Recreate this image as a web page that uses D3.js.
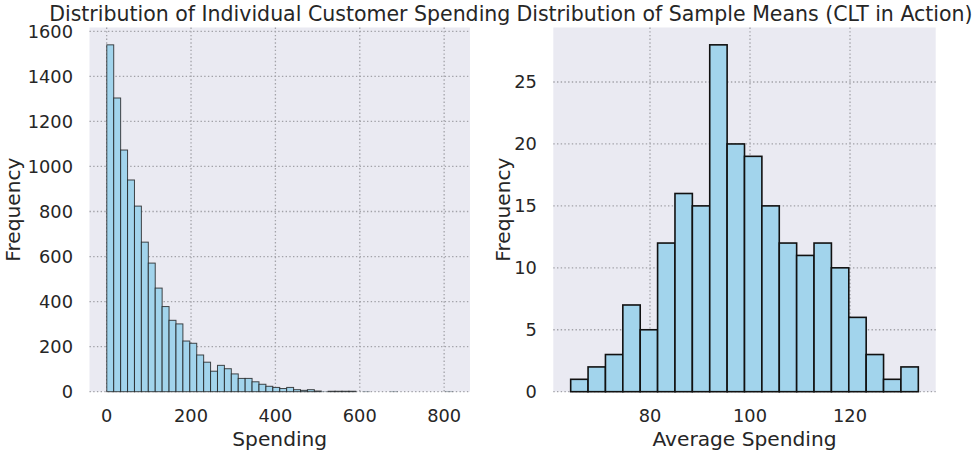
<!DOCTYPE html>
<html>
<head>
<meta charset="utf-8">
<script src="https://cdn.jsdelivr.net/npm/d3@7"></script>
<style>
  html, body { margin: 0; padding: 0; background: #ffffff; }
  svg { display: block; }
  text { font-family: "DejaVu Sans", sans-serif; fill: #262626; }
</style>
</head>
<body>
<svg id="chart" width="979" height="455"></svg>
<script>
// ---------- DATA ----------
// Left: histogram of individual customer spending (50 equal-width bins)
const spendBinStart = 0.3;
const spendBinWidth = 16.4;
const spendCounts = [
  1540, 1304, 1073, 940, 824, 664, 571, 460, 378, 317,
  301, 225, 215, 163, 131, 91, 117, 102, 79, 59,
  59, 44, 33, 24, 19, 14, 19, 9, 6, 9,
  3, 1, 2, 2, 2, 2, 0, 1, 0, 0,
  0, 1, 0, 0, 0, 0, 0, 0, 0, 1
];
const spendXTicks = [0, 200, 400, 600, 800];
const spendYTicks = [0, 200, 400, 600, 800, 1000, 1200, 1400, 1600];

// Right: histogram of sample means (20 equal-width bins)
const meanBinStart = 64.14;
const meanBinWidth = 3.476;
const meanCounts = [1, 2, 3, 7, 5, 12, 16, 15, 28, 20, 19, 15, 12, 11, 12, 10, 6, 3, 1, 2];
const meanXTicks = [80, 100, 120];
const meanYTicks = [0, 5, 10, 15, 20, 25];

const titles = ["Distribution of Individual Customer Spending", "Distribution of Sample Means (CLT in Action)"];
const xLabels = ["Spending", "Average Spending"];
const yLabel = "Frequency";

// ---------- DRAW ----------
const svg = d3.select("#chart");
svg.append("rect").attr("width", 979).attr("height", 455).attr("fill", "#ffffff");

const plotTop = 27.5, plotBottom = 391.7;

function panel(cfg) {
  const bins = cfg.counts.map((c, i) => ({
    x0: cfg.start + i * cfg.width,
    x1: cfg.start + (i + 1) * cfg.width,
    count: c
  }));
  const lo = bins[0].x0, hi = bins[bins.length - 1].x1, span = hi - lo;
  const x = d3.scaleLinear().domain([lo - 0.05 * span, hi + 0.05 * span]).range([cfg.left, cfg.right]);
  const y = d3.scaleLinear().domain([0, d3.max(cfg.counts) * 1.05]).range([plotBottom, plotTop]);

  const g = svg.append("g");
  g.append("rect")
    .attr("x", cfg.left).attr("y", plotTop)
    .attr("width", cfg.right - cfg.left).attr("height", plotBottom - plotTop)
    .attr("fill", "#eaeaf2");

  const grid = g.append("g")
    .attr("stroke", "#a2a2a8").attr("stroke-width", 1.3)
    .attr("stroke-dasharray", "1.4,2.3").attr("fill", "none");
  grid.selectAll("line.v").data(cfg.xTicks).join("line")
    .attr("x1", d => x(d)).attr("x2", d => x(d))
    .attr("y1", plotTop).attr("y2", plotBottom);
  grid.selectAll("line.h").data(cfg.yTicks).join("line")
    .attr("class", "h")
    .attr("x1", cfg.left).attr("x2", cfg.right)
    .attr("y1", d => y(d)).attr("y2", d => y(d));

  g.append("g").selectAll("rect").data(bins.filter(d => d.count > 0)).join("rect")
    .attr("x", d => x(d.x0))
    .attr("y", d => y(d.count))
    .attr("width", d => x(d.x1) - x(d.x0))
    .attr("height", d => y(0) - y(d.count))
    .attr("fill", "#a2d4ec")
    .attr("stroke", cfg.edge)
    .attr("stroke-opacity", d => cfg.faintSmall && (y(0) - y(d.count)) < 0.3 ? 0.25 : cfg.edgeOpacity)
    .attr("stroke-width", cfg.edgeWidth);

  // tick labels
  g.append("g").selectAll("text").data(cfg.xTicks).join("text")
    .attr("x", d => x(d)).attr("y", 421.5)
    .attr("text-anchor", "middle").attr("font-size", "17.8px")
    .text(d => d);
  g.append("g").selectAll("text").data(cfg.yTicks).join("text")
    .attr("x", cfg.left - 16.5).attr("y", d => y(d))
    .attr("dy", "0.36em")
    .attr("text-anchor", "end").attr("font-size", "17.8px")
    .text(d => d);

  const cx = (cfg.left + cfg.right) / 2;
  g.append("text").attr("x", cx).attr("y", 445.5)
    .attr("text-anchor", "middle").attr("font-size", "20.2px").text(cfg.xLabel);
  g.append("text").attr("transform", `translate(${cfg.yLabelX},${(plotTop + plotBottom) / 2}) rotate(-90)`)
    .attr("text-anchor", "middle").attr("font-size", "20.2px").text(yLabel);
  g.append("text").attr("x", cx).attr("y", 20.5)
    .attr("text-anchor", "middle").attr("font-size", "20.5px").text(cfg.title);
}

panel({
  counts: spendCounts, start: spendBinStart, width: spendBinWidth,
  xTicks: spendXTicks, yTicks: spendYTicks,
  left: 89.5, right: 470, yLabelX: 20,
  edge: "#1c1c1c", edgeOpacity: 0.8, edgeWidth: 1, faintSmall: true,
  title: titles[0], xLabel: xLabels[0]
});
panel({
  counts: meanCounts, start: meanBinStart, width: meanBinWidth,
  xTicks: meanXTicks, yTicks: meanYTicks,
  left: 553.3, right: 935.7, yLabelX: 509.5,
  edge: "#111111", edgeOpacity: 1, edgeWidth: 1.6, faintSmall: false,
  title: titles[1], xLabel: xLabels[1]
});
</script>
</body>
</html>
